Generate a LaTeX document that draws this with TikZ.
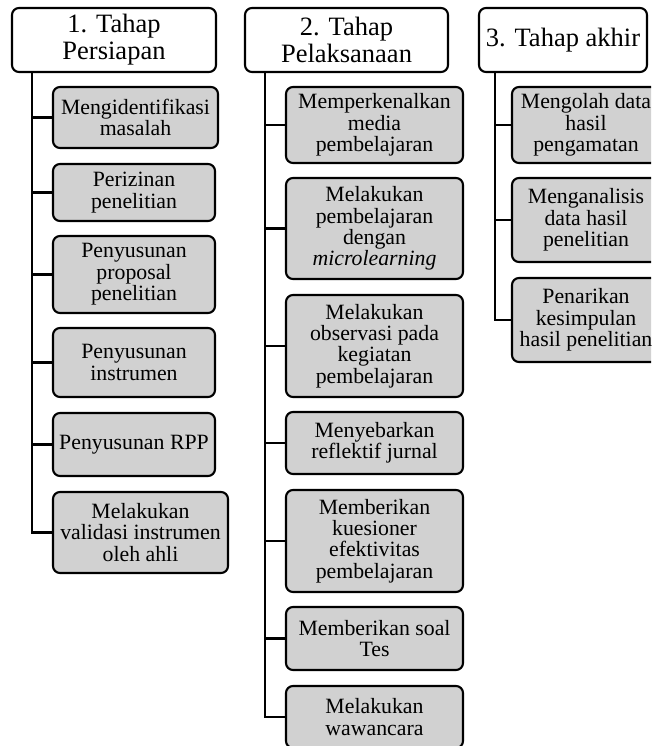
\documentclass[tikz,border=0pt]{standalone}
\usepackage{fontspec}
\setmainfont[Ligatures=NoCommon]{Liberation Serif}
\begin{document}
\begin{tikzpicture}[x=1pt,y=-1pt,
  head/.style={draw, line width=2.1pt, rounded corners=7pt, fill=white, inner sep=0pt,
    align=center, font=\fontsize{26.5}{27}\selectfont},
  sub/.style={draw, line width=2.1pt, rounded corners=7pt, fill=black!18, inner sep=0pt,
    align=center, font=\fontsize{21.8}{21.4}\selectfont},
  link/.style={line width=2.1pt}]
\useasboundingbox (0,0) rectangle (651,746);
\clip (0,0) rectangle (651,746);
\fill[white] (0,0) rectangle (651,746);

% Column 1
\node[head, minimum width=204pt, minimum height=64pt] (h1) at (114,40) {1. Tahap\\Persiapan};
\node[sub, minimum width=165pt, minimum height=61pt] (c11) at (135.5,117.5) {Mengidentifikasi\\masalah};
\node[sub, minimum width=162pt, minimum height=57pt] (c12) at (134,192.5) {Perizinan\\penelitian};
\node[sub, minimum width=162pt, minimum height=77pt] (c13) at (134,274.5) {Penyusunan\\proposal\\penelitian};
\node[sub, minimum width=162pt, minimum height=69pt] (c14) at (134,362.5) {Penyusunan\\instrumen};
\node[sub, minimum width=162pt, minimum height=63pt] (c15) at (134,444.5) {Penyusunan RPP};
\node[sub, minimum width=175pt, minimum height=81pt] (c16) at (140.5,532.5) {Melakukan\\validasi instrumen\\oleh ahli};
\draw[link] ([xshift=21pt]h1.south west) |- (c16.west);
\foreach \n in {c11,c12,c13,c14,c15}
  \draw[link] (\n.west) -- ++(-20,0);

% Column 2
\node[head, minimum width=203pt, minimum height=64pt] (h2) at (346.5,40) {2. Tahap\\Pelaksanaan};
\node[sub, minimum width=177pt, minimum height=76pt] (c21) at (374.5,125) {Memperkenalkan\\media\\pembelajaran};
\node[sub, minimum width=177pt, minimum height=101pt] (c22) at (374.5,228.5) {Melakukan\\pembelajaran\\dengan\\\textit{microlearning}};
\node[sub, minimum width=177pt, minimum height=102pt] (c23) at (374.5,346) {Melakukan\\observasi pada\\kegiatan\\pembelajaran};
\node[sub, minimum width=177pt, minimum height=62pt] (c24) at (374.5,443) {Menyebarkan\\reflektif jurnal};
\node[sub, minimum width=177pt, minimum height=102pt] (c25) at (374.5,541) {Memberikan\\kuesioner\\efektivitas\\pembelajaran};
\node[sub, minimum width=177pt, minimum height=63pt] (c26) at (374.5,638.5) {Memberikan soal\\Tes};
\node[sub, minimum width=177pt, minimum height=62pt] (c27) at (374.5,717) {Melakukan\\wawancara};
\draw[link] ([xshift=21pt]h2.south west) |- (c27.west);
\foreach \n in {c21,c22,c23,c24,c25,c26}
  \draw[link] (\n.west) -- ++(-20,0);

% Column 3
\node[head, minimum width=168pt, minimum height=64pt] (h3) at (563,40) {3. Tahap akhir};
\node[sub, minimum width=148pt, minimum height=76pt] (c31) at (586,125) {Mengolah data\\hasil\\pengamatan};
\node[sub, minimum width=148pt, minimum height=84pt] (c32) at (586,220) {Menganalisis\\data hasil\\penelitian};
\node[sub, minimum width=148pt, minimum height=84pt] (c33) at (586,320) {Penarikan\\kesimpulan\\hasil penelitian};
\draw[link] ([xshift=17pt]h3.south west) |- (c33.west);
\foreach \n in {c31,c32}
  \draw[link] (\n.west) -- ++(-16,0);
\end{tikzpicture}
\end{document}
